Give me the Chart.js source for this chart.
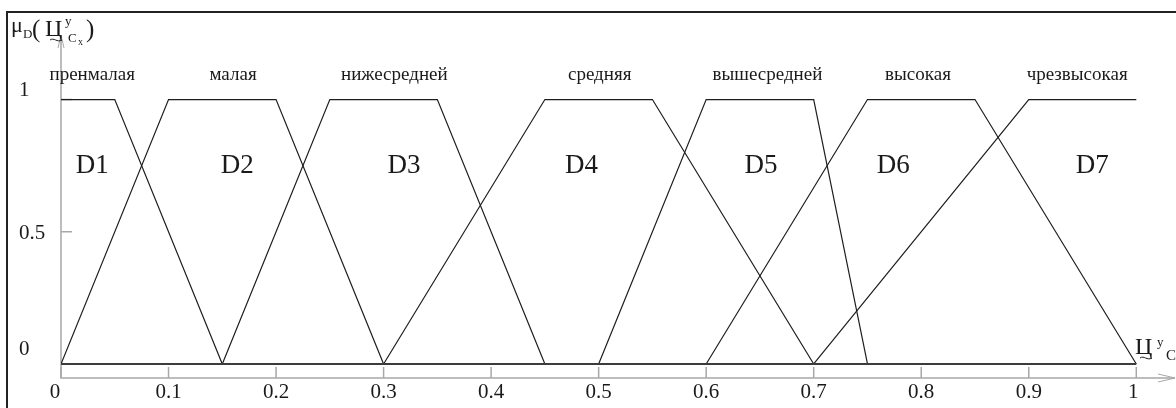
<!DOCTYPE html>
<html>
<head>
<meta charset="utf-8">
<script src="https://cdn.jsdelivr.net/npm/chart.js@4/dist/chart.umd.min.js"></script>
<style>
  html, body { margin: 0; padding: 0; background: #fff; }
  canvas { display: block; }
</style>
</head>
<body>
<canvas id="fuzzy" width="1176" height="408"></canvas>
<script>
// Trapezoid breakpoints of the seven fuzzy sets (null = open shoulder)
const footLeft  = [null, 0.00, 0.15, 0.30, 0.50, 0.60, 0.70];
const coreLeft  = [0.00, 0.10, 0.25, 0.45, 0.60, 0.75, 0.90];
const coreRight = [0.05, 0.20, 0.35, 0.55, 0.70, 0.85, 1.00];
const footRight = [0.15, 0.30, 0.45, 0.70, 0.75, 1.00, null];

const setNames = ['D1', 'D2', 'D3', 'D4', 'D5', 'D6', 'D7'];
const termNames = ['пренмалая', 'малая', 'нижесредней', 'средняя', 'вышесредней', 'высокая', 'чрезвысокая'];

const xTicks = [0, 0.1, 0.2, 0.3, 0.4, 0.5, 0.6, 0.7, 0.8, 0.9, 1];
const yTicks = [0, 0.5, 1];

// where the captions sit along the x axis
const termAt = [0.029, 0.160, 0.310, 0.501, 0.657, 0.797, 0.945];
const setAt  = [0.029, 0.164, 0.319, 0.484, 0.651, 0.774, 0.959];

const SERIF = '"Liberation Serif", "DejaVu Serif", serif';

function trapezoid(i) {
    const pts = [];
    if (footLeft[i] !== null) pts.push({ x: footLeft[i], y: 0 });
    pts.push({ x: coreLeft[i], y: 1 });
    pts.push({ x: coreRight[i], y: 1 });
    if (footRight[i] !== null) pts.push({ x: footRight[i], y: 0 });
    return pts;
}

const datasets = [{
    label: 'base',
    data: [{ x: 0, y: 0 }, { x: 1, y: 0 }],
    borderColor: '#3c3c3c',
    borderWidth: 2
}];
setNames.forEach((name, i) => {
    datasets.push({
        label: name,
        data: trapezoid(i),
        borderColor: '#1e1e1e',
        borderWidth: 1.2
    });
});

// frame, gray axes with arrows, ticks
const axesPlugin = {
    id: 'axes',
    beforeDatasetsDraw(chart) {
        const { ctx, scales: { x, y } } = chart;
        const x0 = x.getPixelForValue(0);
        const yBottom = y.getPixelForValue(y.min);
        const yTop = y.getPixelForValue(y.max);
        const xEnd = x.getPixelForValue(x.max);
        ctx.save();

        // outer frame
        ctx.strokeStyle = '#222';
        ctx.lineWidth = 2;
        ctx.beginPath();
        ctx.moveTo(7, 408);
        ctx.lineTo(7, 12);
        ctx.lineTo(1176, 12);
        ctx.stroke();

        ctx.strokeStyle = '#a8a8a8';
        ctx.lineWidth = 1.5;
        ctx.beginPath();
        ctx.moveTo(x0, yTop);
        ctx.lineTo(x0, yBottom);
        ctx.lineTo(xEnd, yBottom);
        ctx.stroke();

        // arrow heads
        ctx.lineWidth = 1;
        ctx.beginPath();
        ctx.moveTo(x0 - 3, yTop + 13);
        ctx.lineTo(x0, yTop);
        ctx.lineTo(x0 + 3, yTop + 13);
        ctx.moveTo(xEnd - 17, yBottom - 4);
        ctx.lineTo(xEnd, yBottom);
        ctx.lineTo(xEnd - 17, yBottom + 4);
        ctx.stroke();

        // ticks point inward
        ctx.lineWidth = 1.5;
        ctx.beginPath();
        xTicks.forEach(v => {
            const px = x.getPixelForValue(v);
            ctx.moveTo(px, yBottom);
            ctx.lineTo(px, yBottom - 11);
        });
        yTicks.forEach(v => {
            const py = y.getPixelForValue(v);
            ctx.moveTo(x0, py);
            ctx.lineTo(x0 + 11, py);
        });
        ctx.stroke();
        ctx.restore();
    },
    afterDatasetsDraw(chart) {
        const { ctx, scales: { x, y } } = chart;
        const yBottom = y.getPixelForValue(y.min);
        ctx.save();
        ctx.fillStyle = '#1a1a1a';
        ctx.textBaseline = 'middle';

        // tick labels
        ctx.font = '21px ' + SERIF;
        ctx.textAlign = 'center';
        xTicks.forEach(v => {
            let px = x.getPixelForValue(v);
            if (v === 0) px -= 6;
            if (v === 1) px -= 3;
            ctx.fillText(String(v), px, yBottom + 14);
        });
        ctx.textAlign = 'left';
        const yLabelOffset = { 0: -14, 0.5: 2, 1: -9 };
        yTicks.forEach(v => {
            ctx.fillText(String(v), 19, y.getPixelForValue(v) + yLabelOffset[v]);
        });

        // linguistic terms above the plateaus
        ctx.textAlign = 'center';
        ctx.font = '19px ' + SERIF;
        termNames.forEach((t, i) => {
            ctx.fillText(t, x.getPixelForValue(termAt[i]), y.getPixelForValue(1.093));
        });

        // set names
        ctx.font = '27px ' + SERIF;
        setNames.forEach((t, i) => {
            ctx.fillText(t, x.getPixelForValue(setAt[i]), y.getPixelForValue(0.75));
        });

        // axis titles
        ctx.textBaseline = 'alphabetic';
        ctx.textAlign = 'left';
        ctx.font = '22px ' + SERIF;
        ctx.fillText('μ', 11, 32);
        ctx.font = '13px ' + SERIF;
        ctx.fillText('D', 23, 38);
        ctx.font = '25px ' + SERIF;
        ctx.fillText('(', 32, 37);
        ctx.font = '24px ' + SERIF;
        ctx.fillText('Ц', 45, 36);
        ctx.font = '13px ' + SERIF;
        ctx.fillText('y', 65, 25);
        ctx.fillText('C', 68, 42);
        ctx.font = '10px ' + SERIF;
        ctx.fillText('x', 78, 45);
        ctx.font = '25px ' + SERIF;
        ctx.fillText(')', 86, 37);

        ctx.font = '24px ' + SERIF;
        ctx.fillText('Ц', 1135, 354);
        ctx.font = '13px ' + SERIF;
        ctx.fillText('y', 1157, 346);
        ctx.font = '15px ' + SERIF;
        ctx.fillText('C', 1166, 360);

        // wavy marks under Ц
        ctx.strokeStyle = '#1a1a1a';
        ctx.lineWidth = 1;
        [[50, 40], [1140, 358]].forEach(([sx, sy]) => {
            ctx.beginPath();
            ctx.moveTo(sx, sy);
            ctx.bezierCurveTo(sx + 4, sy - 3, sx + 7, sy + 3, sx + 12, sy);
            ctx.stroke();
        });
        ctx.restore();
    }
};

new Chart(document.getElementById('fuzzy'), {
    type: 'line',
    data: { datasets },
    options: {
        responsive: false,
        animation: false,
        devicePixelRatio: 1,
        parsing: true,
        layout: { padding: { left: 61, right: 1, top: 35, bottom: 30 } },
        elements: {
            point: { radius: 0 },
            line: { tension: 0, fill: false }
        },
        scales: {
            x: { type: 'linear', min: 0, max: 1.036, display: false },
            y: { type: 'linear', min: -0.053, max: 1.244, display: false }
        },
        plugins: {
            legend: { display: false },
            tooltip: { enabled: false }
        }
    },
    plugins: [axesPlugin]
});
</script>
</body>
</html>
